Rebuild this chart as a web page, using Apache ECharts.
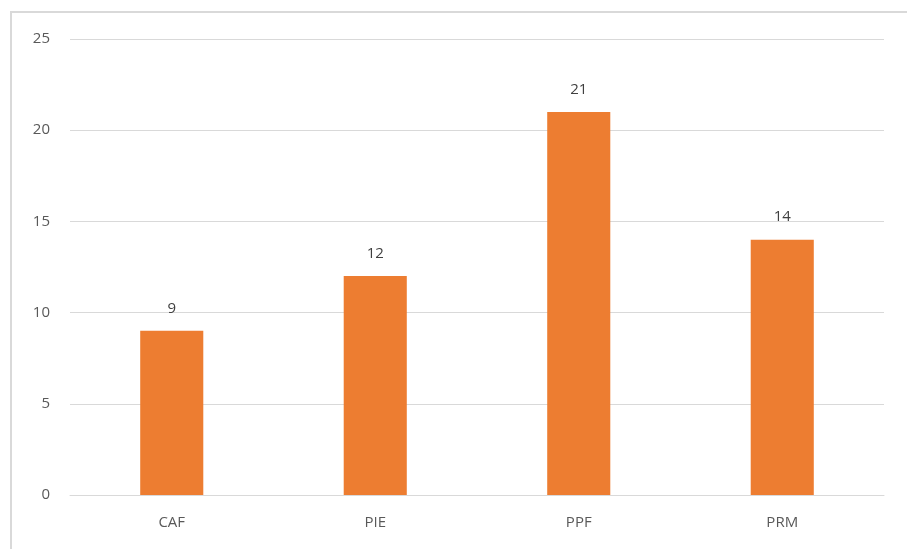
<!DOCTYPE html>
<html>
<head>
<meta charset="utf-8">
<script src="https://cdn.jsdelivr.net/npm/echarts@6/dist/echarts.min.js"></script>
<style>html,body{margin:0;padding:0;background:#fff;}#c{width:907px;height:549px;}</style>
</head>
<body>
<div id="c"></div>
<script>
const categories = ['CAF', 'PIE', 'PPF', 'PRM'];
const values = [9, 12, 21, 14];
const yTicks = { min: 0, max: 25, interval: 5 };

const chart = echarts.init(document.getElementById('c'), null, { renderer: 'canvas' });
chart.setOption({
  animation: false,
  backgroundColor: '#fff',
  graphic: [{
    type: 'rect',
    shape: { x: 11, y: 12, width: 920, height: 560 },
    style: { fill: 'none', stroke: '#D9D9D9', lineWidth: 2 },
    silent: true
  }],
  grid: { left: 70, right: 23, top: 39, bottom: 54 },
  xAxis: {
    type: 'category',
    data: categories,
    axisLine: { show: true, lineStyle: { color: '#D9D9D9', width: 1 } },
    axisTick: { show: false },
    axisLabel: { color: '#595959', fontSize: 15, fontFamily: 'Open Sans', margin: 20 }
  },
  yAxis: {
    type: 'value',
    min: yTicks.min, max: yTicks.max, interval: yTicks.interval,
    axisLine: { show: false },
    axisTick: { show: false },
    axisLabel: { color: '#595959', fontSize: 15, fontFamily: 'Open Sans', margin: 20 },
    splitLine: { lineStyle: { color: '#D9D9D9', width: 1 } }
  },
  series: [{
    type: 'bar',
    data: values,
    barWidth: '31%',
    itemStyle: { color: '#ED7D31' },
    label: { show: true, position: 'top', distance: 15, color: '#404040', fontSize: 15, fontFamily: 'Open Sans' }
  }]
});
</script>
</body>
</html>
